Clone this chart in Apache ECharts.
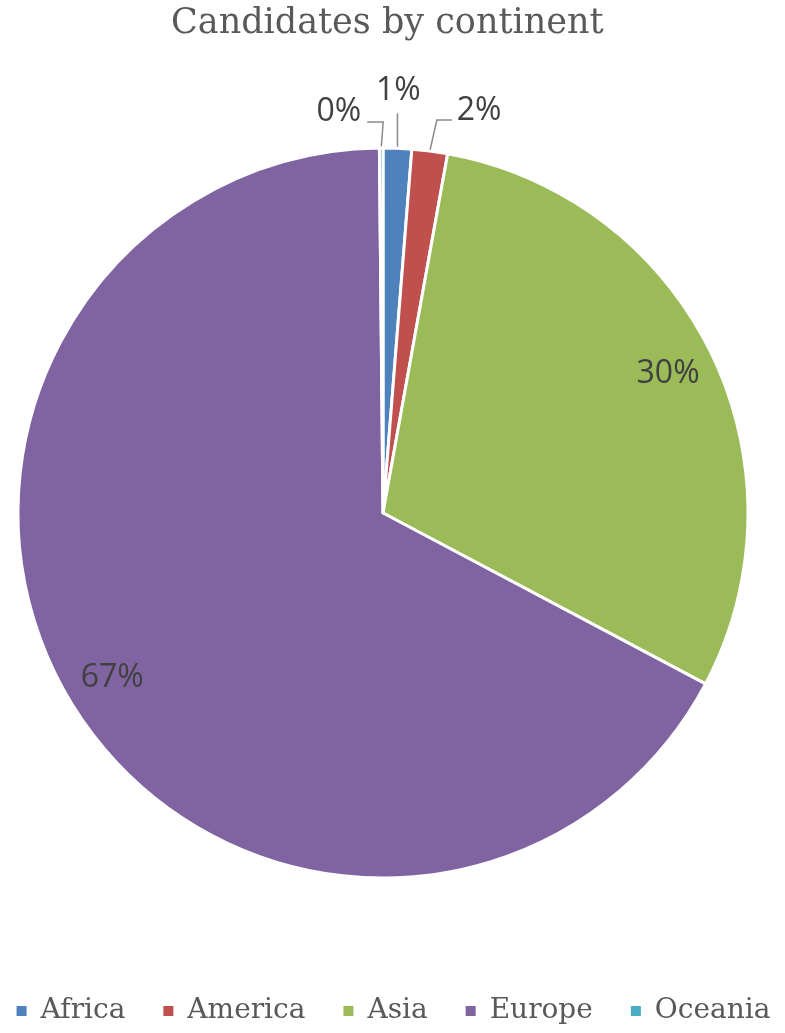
<!DOCTYPE html>
<html><head><meta charset="utf-8">
<script src="https://cdn.jsdelivr.net/npm/echarts@6/dist/echarts.min.js"></script>
<style>html,body{margin:0;padding:0;background:#fff}#c{width:785px;height:1033px}</style>
</head><body><div id="c"></div>
<script>
const categories = ['Africa', 'America', 'Asia', 'Europe', 'Oceania'];
const values = [8, 10, 190, 426, 1];
const colors = ['#4F81BD', '#C0504D', '#9BBB59', '#8064A2', '#4BACC6'];
const insideLabels = ['Asia', 'Europe'];

const chart = echarts.init(document.getElementById('c'));
const labelFont = { fontFamily: '"Open Sans", "Liberation Sans", sans-serif', fontSize: 32, color: '#404040' };
const fmt = p => Math.round(p.percent) + '%';

const mainData = categories.map((c, i) => ({
  name: c, value: values[i],
  itemStyle: { color: colors[i] },
  label: { show: !insideLabels.includes(c) },
  labelLine: { show: !insideLabels.includes(c) }
}));
const ringData = categories.map((c, i) => ({
  name: c, value: values[i],
  label: { show: insideLabels.includes(c) }
}));

// leader-line styles for the small outside labels, relative to the slice edge point
function outsideLayout(params) {
  if (params.seriesIndex !== 0 || !params.labelLinePoints) return {};
  const p0 = params.labelLinePoints[0];
  const name = categories[params.dataIndex];
  if (name === 'Africa') {
    const p1 = [p0[0], p0[1] - 35];
    return { x: p1[0] + 1, y: p1[1] - 6, align: 'center', verticalAlign: 'bottom', labelLinePoints: [p0, p1, p1] };
  }
  if (name === 'America') {
    const p1 = [p0[0] + 7, p0[1] - 31];
    const p2 = [p1[0] + 15, p1[1]];
    return { x: p2[0] + 5, y: p1[1] - 9, align: 'left', verticalAlign: 'middle', labelLinePoints: [p0, p1, p2] };
  }
  if (name === 'Oceania') {
    const p1 = [p0[0] + 2, p0[1] - 26];
    const p2 = [p1[0] - 16, p1[1]];
    return { x: p2[0] - 6, y: p1[1] - 10, align: 'right', verticalAlign: 'middle', labelLinePoints: [p0, p1, p2] };
  }
  return {};
}

chart.setOption({
  animation: false,
  title: {
    text: 'Candidates by continent', left: 166, top: 1,
    textStyle: { fontFamily: '"DejaVu Serif", serif', fontSize: 35, fontWeight: 'normal', color: '#595959' }
  },
  legend: {
    bottom: 8, left: 'center', padding: 0, itemWidth: 12, itemHeight: 12, itemGap: 36, icon: 'rect',
    data: categories,
    textStyle: { fontFamily: '"DejaVu Serif", serif', fontSize: 28, color: '#595959', padding: [0, 0, 0, 8] }
  },
  series: [{
    type: 'pie', center: [383, 513], radius: [0, 365], startAngle: 90, clockwise: true,
    avoidLabelOverlap: false,
    itemStyle: { borderColor: '#fff', borderWidth: 3 },
    label: Object.assign({ position: 'outside', formatter: fmt }, labelFont),
    labelLine: { length: 22, length2: 10, lineStyle: { color: '#8c8c8c', width: 1.5 } },
    labelLayout: outsideLayout,
    data: mainData
  }, {
    type: 'pie', center: [383, 513], radius: [263, 365], startAngle: 90, clockwise: true,
    silent: true, legendHoverLink: false,
    itemStyle: { color: 'rgba(0,0,0,0)', borderWidth: 0 },
    label: Object.assign({ position: 'inside', formatter: fmt }, labelFont),
    labelLine: { show: false },
    data: ringData,
    tooltip: { show: false }
  }]
});
</script></body></html>
